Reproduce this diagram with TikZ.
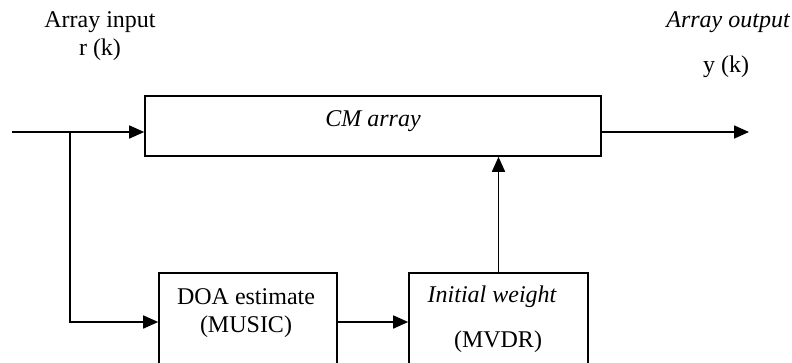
\documentclass[tikz,border=0pt]{standalone}
\usepackage{fontspec}
\setmainfont{Liberation Serif}
\usetikzlibrary{arrows.meta}
\begin{document}
\begin{tikzpicture}[x=1pt,y=-1pt,
  blk/.style={draw,line width=1.6pt,rectangle,inner sep=0pt},
  lbl/.style={inner sep=0pt,font=\fontsize{24}{28}\selectfont},
  conn/.style={line width=1.6pt,-{Triangle[length=15pt,width=13pt]}}]
\clip (0,0) rectangle (792,362);
\node[blk,minimum width=456pt,minimum height=60pt] (cm) at (373,126) {};
\node[blk,minimum width=178pt,minimum height=98pt] (doa) at (248,322) {};
\node[blk,minimum width=179pt,minimum height=98pt] (iw) at (498.5,322) {};
\node[lbl] (tin1) at (100,22) {Array input};
\node[lbl] (tin2) at (100,50) {r (k)};
\node[lbl,font=\fontsize{24}{28}\selectfont\itshape] (tout1) at (728,22) {Array output};
\node[lbl] (tout2) at (726,67) {y (k)};
\node[lbl,font=\fontsize{24}{28}\selectfont\itshape] (tcm) at (373,121) {CM array};
\node[lbl] (tdoa1) at (246,297) {DOA estimate};
\node[lbl] (tdoa2) at (246,327) {(MUSIC)};
\node[lbl,font=\fontsize{24}{28}\selectfont\itshape] (tiw1) at (492,297) {Initial weight};
\node[lbl] (tiw2) at (498,342) {(MVDR)};
\coordinate (in) at (12,132);
\coordinate (br) at (70,132);
\coordinate (out) at (749,132);
\draw[conn] (in) -- (cm.west |- in);
\draw[conn] (br) |- (doa.west);
\draw[conn] (doa.east) -- (iw.west);
\draw[conn] (iw.north) -- (cm.south -| iw.north);
\draw[conn] (cm.east |- out) -- (out);
\end{tikzpicture}
\end{document}
